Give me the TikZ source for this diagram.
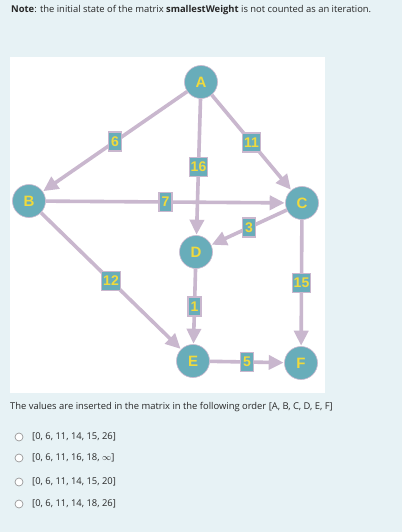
\documentclass[tikz,border=0pt]{standalone}
\usepackage{fontspec}
\setmainfont{Open Sans}
\newfontfamily\nodefont{Liberation Sans}
\usetikzlibrary{arrows.meta}
\definecolor{bgc}{RGB}{231,242,245}
\definecolor{edgec}{RGB}{201,183,206}
\definecolor{nodec}{RGB}{104,173,186}
\definecolor{txtc}{RGB}{240,218,60}
\definecolor{bodyc}{RGB}{40,40,40}
\tikzset{
  vert/.style={circle,fill=nodec,draw=edgec,line width=0.6pt,minimum size=33pt,inner sep=0pt,
    text=txtc,font=\nodefont\bfseries\fontsize{15}{15}\selectfont},
  wlabel/.style={fill=nodec,draw=edgec,line width=1.3pt,inner sep=1.5pt,minimum height=19pt,minimum width=13pt,
    text=txtc,font=\nodefont\bfseries\fontsize{14}{14}\selectfont},
  wedge/.style={draw=edgec,line width=3.6pt,-{Triangle[length=15pt,width=14pt]},shorten >=0.5pt},
  radio/.style={circle,draw=gray!80,fill=white,line width=0.7pt,minimum size=8pt,inner sep=0pt},
  opt/.style={anchor=west,inner sep=0pt,text=bodyc,font=\fontsize{9.4}{11}\selectfont},
}
\begin{document}
\begin{tikzpicture}[x=1pt,y=-1pt]
\fill[bgc] (0,0) rectangle (402,532);
\useasboundingbox (0,0) rectangle (402,532);
\fill[white] (10,57) rectangle (325,393);
\node[anchor=west,inner sep=0pt,text=bodyc,font=\fontsize{9.4}{11}\selectfont] (note) at (11,10)
  {\textbf{Note}: the initial state of the matrix \textbf{smallestWeight} is not counted as an iteration.};
\node (A) [vert] at (201,82) {A};
\node (B) [vert] at (29,201) {B};
\node (C) [vert] at (302,203) {C};
\node (D) [vert] at (196,252) {D};
\node (E) [vert] at (193,361) {E};
\node (F) [vert] at (301,363) {F};
\draw[wedge] (A) -- (B) node[wlabel,midway] (w6) {6};
\draw[wedge] (A) -- (C) node[wlabel,midway] (w11) {11};
\draw[wedge] (B) -- (C) node[wlabel,midway] (w7) {7};
\draw[wedge] (A) -- (D) node[wlabel,midway] (w16) {16};
\draw[wedge] (C) -- (D) node[wlabel,midway] (w3) {3};
\draw[wedge] (B) -- (E) node[wlabel,midway] (w12) {12};
\draw[wedge] (C) -- (F) node[wlabel,midway] (w15) {15};
\draw[wedge] (D) -- (E) node[wlabel,midway] (w1) {1};
\draw[wedge] (E) -- (F) node[wlabel,midway] (w5) {5};
\node[anchor=west,inner sep=0pt,text=bodyc,font=\fontsize{9.4}{11}\selectfont] (order) at (10,407)
  {The values are inserted in the matrix in the following order [A, B, C, D, E, F]};
\node (r1) [radio] at (19,437) {};
\node (r2) [radio] at (19,458) {};
\node (r3) [radio] at (19,482) {};
\node (r4) [radio] at (19,504) {};
\node (o1) [opt] at (32,437) {[0, 6, 11, 14, 15, 26]};
\node (o2) [opt] at (32,458) {[0, 6, 11, 16, 18, $\infty$]};
\node (o3) [opt] at (32,482) {[0, 6, 11, 14, 15, 20]};
\node (o4) [opt] at (32,504) {[0, 6, 11, 14, 18, 26]};
\end{tikzpicture}
\end{document}
